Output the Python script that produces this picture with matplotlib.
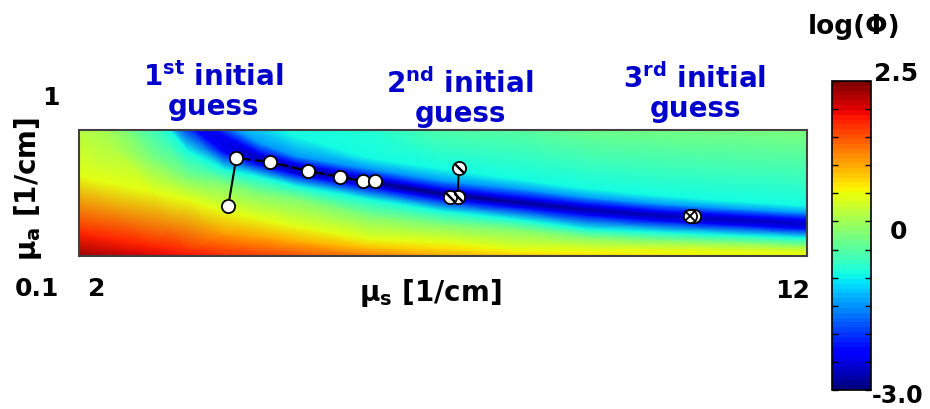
import numpy as np
import matplotlib
matplotlib.use('Agg')
import matplotlib.pyplot as plt
from matplotlib import cm, colors

# columns of the log(Phi) map (mu_s, 1/cm)
mu_s_cols = [2, 3, 3.5, 4, 4.5, 5, 6, 7, 8, 9, 10, 11, 12]

# mu_a (1/cm) where each colour band sits in each column
mu_a_bottom = [0.10] * 13
mu_a_red = [0.26, 0.17, 0.125, 0.26, 0.2325, 0.205, 0.16, 0.15, 0.125, 0.1215, 0.1215, 0.118, 0.1145]
mu_a_yellow = [0.67, 0.56, 0.50, 0.42, 0.365, 0.31, 0.22, 0.20, 0.15, 0.143, 0.143, 0.136, 0.129]
mu_a_green = [1.40, 0.80, 0.66, 0.62, 0.55, 0.51, 0.386, 0.329, 0.293, 0.236, 0.214, 0.200, 0.179]
mu_a_cyan_lo = [1.70, 1.15, 0.85, 0.72, 0.665, 0.60, 0.507, 0.421, 0.364, 0.293, 0.271, 0.250, 0.229]
mu_a_blue_lo = [1.85, 1.22, 1.04, 0.84, 0.75, 0.683, 0.594, 0.508, 0.451, 0.394, 0.352, 0.323, 0.296]
mu_a_valley = [1.95, 1.28, 1.09, 0.90, 0.79, 0.72, 0.629, 0.543, 0.486, 0.429, 0.386, 0.357, 0.329]
mu_a_blue_hi = [2.05, 1.34, 1.14, 0.96, 0.83, 0.757, 0.664, 0.578, 0.521, 0.464, 0.420, 0.391, 0.362]
mu_a_lblue_hi = [2.10, 1.38, 1.18, 1.04, 0.90, 0.81, 0.72, 0.635, 0.58, 0.515, 0.468, 0.436, 0.407]
mu_a_cyan_hi = [2.20, 1.44, 1.24, 1.10, 1.08, 0.95, 0.80, 0.72, 0.65, 0.58, 0.53, 0.49, 0.46]
mu_a_top = [2.50, 1.70, 1.60, 1.50, 1.30, 1.00, 1.00, 1.00, 1.00, 1.00, 1.00, 1.00, 1.00]

# log(Phi) values
logphi_bottom = [2.35, 2.05, 1.9, 1.75, 1.65, 1.55, 1.3, 1.0, 0.85, 0.75, 0.65, 0.55, 0.5]
logphi_red = [1.81, 1.81, 1.81, 1.095, 1.045, 0.995, 0.87, 0.72, 0.645, 0.595, 0.545, 0.495, 0.47]
logphi_valley = [-2.4, -2.4, -2.45, -2.5, -2.75, -2.85, -2.95, -3.0, -2.9, -2.8, -2.75, -2.7, -2.65]
logphi_top = [-0.5, -0.5, -0.5, -0.5, -0.5, -0.9, -0.85, -0.55, -0.5, -0.35, -0.3, -0.28, -0.25]
lvl_yellow, lvl_green, lvl_cyan, lvl_lblue, lvl_blue = 0.44, -0.25, -0.94, -1.5, -2.31

# optimisation paths from the three initial guesses
guess1_mu_s = [4.05, 4.16, 4.62, 5.15, 5.59, 5.90, 6.07]
guess1_mu_a = [0.457, 0.80, 0.771, 0.707, 0.664, 0.636, 0.636]
guess2_mu_s = [7.22, 7.20, 7.10]
guess2_mu_a = [0.726, 0.524, 0.524]
guess3_mu_s = [10.45, 10.39]
guess3_mu_a = [0.384, 0.384]

n = len(mu_s_cols)
rows_y = [mu_a_bottom, mu_a_red, mu_a_yellow, mu_a_green, mu_a_cyan_lo, mu_a_blue_lo,
          mu_a_valley, mu_a_blue_hi, mu_a_lblue_hi, mu_a_cyan_hi, mu_a_top]
rows_c = [logphi_bottom, logphi_red, [lvl_yellow] * n, [lvl_green] * n, [lvl_cyan] * n,
          [lvl_blue] * n, logphi_valley, [lvl_blue] * n, [lvl_lblue] * n, [lvl_cyan] * n,
          logphi_top]
Y = np.array(rows_y)
C = np.array(rows_c)
X = np.tile(np.array(mu_s_cols, dtype=float), (Y.shape[0], 1))

W, H = 930, 410
fig = plt.figure(figsize=(W / 100, H / 100), dpi=100)

def fx(px):
    return px / W

def fy(py):
    return 1 - py / H

ax = fig.add_axes([fx(79), fy(257), 728 / W, 126 / H])
ax.pcolormesh(X, Y, C, shading='gouraud', cmap='jet', vmin=-3, vmax=2.5)
ax.set_xlim(2, 12)
ax.set_ylim(0.1, 1)
ax.set_xticks([])
ax.set_yticks([])
for s in ax.spines.values():
    s.set_color('#404040')
    s.set_linewidth(1.5)

mk = dict(marker='o', ms=9.5, mfc='white', mec='black', mew=1.3, zorder=4)
ax.plot(guess1_mu_s[:2], guess1_mu_a[:2], color='black', lw=1.5, zorder=3)
ax.plot(guess1_mu_s[1:], guess1_mu_a[1:], color='black', lw=1.5, ls=(0, (7, 2)), zorder=3)
ax.plot(guess1_mu_s, guess1_mu_a, ls='none', **mk)

ax.plot(guess2_mu_s[:2], guess2_mu_a[:2], color='black', lw=1.3, zorder=3)
for i in [1, 2, 0]:
    ax.plot(guess2_mu_s[i], guess2_mu_a[i], ls='none', **mk)
    ax.plot(guess2_mu_s[i], guess2_mu_a[i], ls='none', marker=(2, 2, 45), ms=8,
            mec='black', mew=1.5, zorder=5)

for i in [0, 1]:
    ax.plot(guess3_mu_s[i], guess3_mu_a[i], ls='none', **mk)
ax.plot(guess3_mu_s[1], guess3_mu_a[1], ls='none', marker='x', ms=6.5,
        mec='black', mew=1.3, zorder=5)

# labels
bold = dict(fontweight='bold', ha='center', va='center')
blue = '#0000CC'
fig.text(fx(213), fy(92), r'1$^{\mathbf{st}}$ initial' + '\n' + 'guess', color=blue,
         fontsize=20, linespacing=1.05, **bold)
fig.text(fx(460), fy(98), r'2$^{\mathbf{nd}}$ initial' + '\n' + 'guess', color=blue,
         fontsize=20, linespacing=1.05, **bold)
fig.text(fx(695), fy(93), r'3$^{\mathbf{rd}}$ initial' + '\n' + 'guess', color=blue,
         fontsize=20, linespacing=1.05, **bold)

fig.text(fx(28), fy(189), r'μ$_\mathbf{a}$ [1/cm]', rotation=90, fontsize=20, **bold)
fig.text(fx(430), fy(293), r'μ$_\mathbf{s}$ [1/cm]', fontsize=20, **bold)
fig.text(fx(51), fy(98), '1', fontsize=18, **bold)
fig.text(fx(37), fy(289), '0.1', fontsize=18, **bold)
fig.text(fx(97), fy(289), '2', fontsize=18, **bold)
fig.text(fx(793), fy(291), '12', fontsize=18, **bold)

# colour bar
cax = fig.add_axes([fx(832), fy(391), 39 / W, 309 / H])
sm = cm.ScalarMappable(norm=colors.Normalize(-3, 2.5), cmap=plt.get_cmap('jet', 64))
cb = fig.colorbar(sm, cax=cax)
cb.set_ticks(np.arange(-3, 2.51, 0.5))
cb.ax.tick_params(direction='in', length=4, width=1, left=True, right=True,
                  labelleft=False, labelright=False)
cb.outline.set_linewidth(1.2)
fig.text(fx(854), fy(27), 'log(Φ)', fontsize=19, **bold)
fig.text(fx(896), fy(74), '2.5', fontsize=18, **bold)
fig.text(fx(898), fy(232), '0', fontsize=18, **bold)
fig.text(fx(898), fy(396), '-3.0', fontsize=17, **bold)

fig.savefig('out.png', dpi=100)
